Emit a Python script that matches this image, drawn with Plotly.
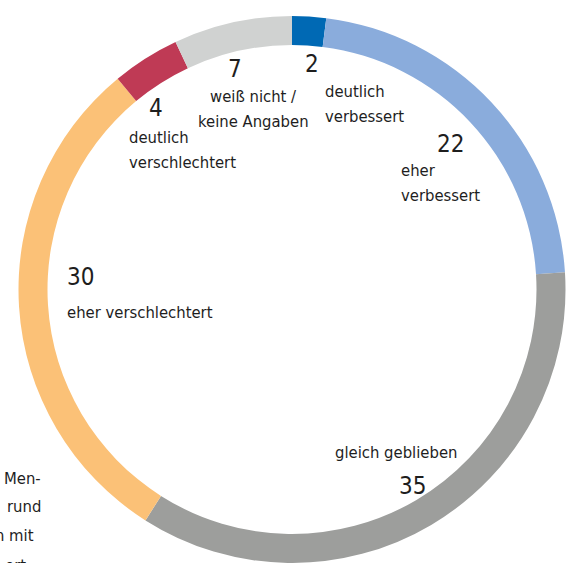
import plotly.graph_objects as go

categories = ["deutlich verbessert", "eher verbessert", "gleich geblieben",
              "eher verschlechtert", "deutlich verschlechtert", "weiß nicht / keine Angaben"]
values = [2, 22, 35, 30, 4, 7]
colors = ["#0069b4", "#8aacdc", "#9d9e9c", "#fbc177", "#bf3a55", "#d0d2d1"]

W, H = 568, 563
FONT = "DejaVu Sans Condensed, DejaVu Sans, sans-serif"
TXT = "#1e1e1e"
NUM_SIZE = 24
LAB_SIZE = 16.5
LINE = 25

ring = 29
dom_h = H - 16
r_out = min(W - 16, dom_h) / 2

fig = go.Figure(go.Pie(
    labels=categories, values=values, sort=False, direction="clockwise",
    rotation=0, hole=(r_out - ring) / r_out,
    marker=dict(colors=colors, line=dict(width=0)),
    textinfo="none", hoverinfo="label+value", showlegend=False,
    domain=dict(x=[16 / W, 1], y=[0, 1 - 16 / H]),
))


def px(x):
    return x / W


def py(y):
    return 1 - y / H


# (text, x_px, y_px of first line, xanchor, size, line step)
labels = [
    ("2", 311.5, 64, "center", NUM_SIZE, LINE),
    ("deutlich<br>verbessert", 323, 91, "left", LAB_SIZE, LINE),
    ("22", 450, 144, "center", NUM_SIZE, LINE),
    ("eher<br>verbessert", 399, 171, "left", LAB_SIZE, LINE),
    ("7", 234.5, 69, "center", NUM_SIZE, LINE),
    ("weiß nicht /<br>keine Angaben", 253, 96, "center", LAB_SIZE, LINE),
    ("4", 156, 108, "center", NUM_SIZE, LINE),
    ("deutlich<br>verschlechtert", 127, 137, "left", LAB_SIZE, LINE),
    ("30", 65, 277, "left", NUM_SIZE, LINE),
    ("eher verschlechtert", 65, 312, "left", LAB_SIZE, LINE),
    ("gleich geblieben", 333, 452, "left", LAB_SIZE, LINE),
    ("35", 412, 486, "center", NUM_SIZE, LINE),
    ("Men-<br>rund", 43, 478, "right", LAB_SIZE, 28),
    ("n mit", 36, 535, "right", LAB_SIZE, 28),
    ("ert", 28, 566, "right", LAB_SIZE, 28),
]

for text, x, y, xa, size, step in labels:
    for i, line in enumerate(text.split("<br>")):
        fig.add_annotation(text=line, x=px(x), y=py(y + i * step),
                           xref="paper", yref="paper",
                           xanchor=xa, yanchor="middle", showarrow=False,
                           font=dict(family=FONT, size=size, color=TXT))

fig.update_layout(width=W, height=H, margin=dict(l=0, r=0, t=0, b=0),
                  paper_bgcolor="white", plot_bgcolor="white")
fig.write_html("out.html", config={"displayModeBar": False},
               post_script="document.body.style.margin='0';")
